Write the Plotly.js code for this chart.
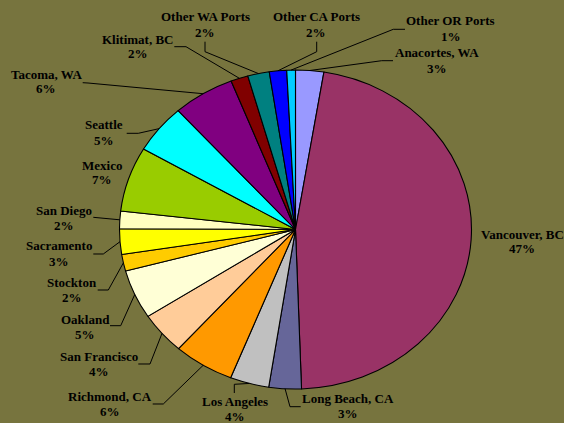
<!DOCTYPE html>
<html>
<head>
<meta charset="utf-8">
<script src="https://cdn.plot.ly/plotly-3.0.1.min.js"></script>
<style>
html,body{margin:0;padding:0;background:#77743E;overflow:hidden;}
#chart{width:564px;height:423px;}
/* the reference pie is drawn slightly wider than tall */
#chart .pielayer{transform-origin:295.5px 229.5px;transform:scaleX(1.1034);}
</style>
</head>
<body>
<div id="chart"></div>
<script>
// ---- data ----
const ports = ['Anacortes, WA','Vancouver, BC','Long Beach, CA','Los Angeles','Richmond, CA',
  'San Francisco','Oakland','Stockton','Sacramento','San Diego','Mexico','Seattle',
  'Tacoma, WA','Klitimat, BC','Other WA Ports','Other CA Ports','Other OR Ports'];
const shares = [2.6,47.2,3.0,3.6,5.6,4.3,5.0,1.7,2.6,1.8,6.6,5.0,5.7,1.6,2.0,1.6,0.8];
const sliceColors = ['#9999FF','#993366','#666699','#C0C0C0','#FF9900','#FFCC99','#FFFFD6',
  '#FFCC00','#FFFF00','#FFFFC0','#99CC00','#00FFFF','#800080','#800000','#008080','#0000FF','#00CCFF'];

// ---- layout of labels (pixel positions) ----
const W = 564, H = 423;
const cx = 295.5, cy = 229.5, rx = 176, ry = 159.5;
const labelX = [437,522,347.5,234.7,110.3,99.3,85,71.7,58.7,63.7,101.5,104,46,137.7,205,316,450.5];
const labelY = [53,234,398,401.5,396,356,319,282,246,210,165,125,74,39,17,17,21];
const lineGap = 15;
const leaders = [
  [[393,60.7],[381.7,60.7]],
  null,
  [[300.7,406.7],[290,406.7]],
  [[234.3,393],[234.3,384.3]],
  [[152.7,404],[163.3,404]],
  [[138.3,364],[150,364]],
  [[110,325.7],[120.7,325.7]],
  [[97.7,290],[108.3,290]],
  [[93.3,254],[103.3,254]],
  [[93.3,217.3]],
  null,
  [[126.7,133.3],[138.3,133.3]],
  [[82.7,82.7],[88,83]],
  [[174.3,46.7],[186,46.7]],
  [[205,41.7],[205,51.7]],
  [[316.7,41.7],[316.7,51.7]],
  [[405,29.3],[393.3,29.3]]
];

const px = x => x / W;
const py = y => 1 - y / H;

const total = shares.reduce((a,b)=>a+b,0);
const font = {family:'"Liberation Serif","Times New Roman",serif', size:13, color:'#000000', weight:'bold'};

const annotations = [];
const shapes = [];
let cum = 0;
shares.forEach((v,i) => {
  const mid = (cum + v/2) / total * 2 * Math.PI;
  cum += v;
  const ex = cx + rx * Math.sin(mid);
  const ey = cy - ry * Math.cos(mid);
  const pct = Math.round(v / total * 100) + '%';
  annotations.push({xref:'paper',yref:'paper',x:px(labelX[i]),y:py(labelY[i]),text:ports[i],
    showarrow:false,xanchor:'center',yanchor:'middle',font:font});
  annotations.push({xref:'paper',yref:'paper',x:px(labelX[i]),y:py(labelY[i]+lineGap),text:pct,
    showarrow:false,xanchor:'center',yanchor:'middle',font:font});
  if (leaders[i]) {
    const pts = leaders[i].concat([[ex,ey]]);
    const path = pts.map((p,k)=>(k?'L':'M')+px(p[0]).toFixed(5)+','+py(p[1]).toFixed(5)).join(' ');
    shapes.push({type:'path',xref:'paper',yref:'paper',path:path,line:{color:'#000000',width:1}});
  }
});

const trace = {
  type:'pie',
  labels:ports,
  values:shares,
  sort:false,
  direction:'clockwise',
  rotation:0,
  textinfo:'none',
  hoverinfo:'label+percent',
  marker:{colors:sliceColors, line:{color:'#000000', width:1}},
  domain:{x:[(cx-ry)/W,(cx+ry)/W], y:[(H-(cy+ry))/H,(H-(cy-ry))/H]},
  showlegend:false
};

const layout = {
  width:W, height:H,
  margin:{l:0,r:0,t:0,b:0},
  paper_bgcolor:'#77743E',
  plot_bgcolor:'#77743E',
  showlegend:false,
  annotations:annotations,
  shapes:shapes
};

Plotly.newPlot('chart',[trace],layout,{displayModeBar:false,staticPlot:true});
</script>
</body>
</html>
